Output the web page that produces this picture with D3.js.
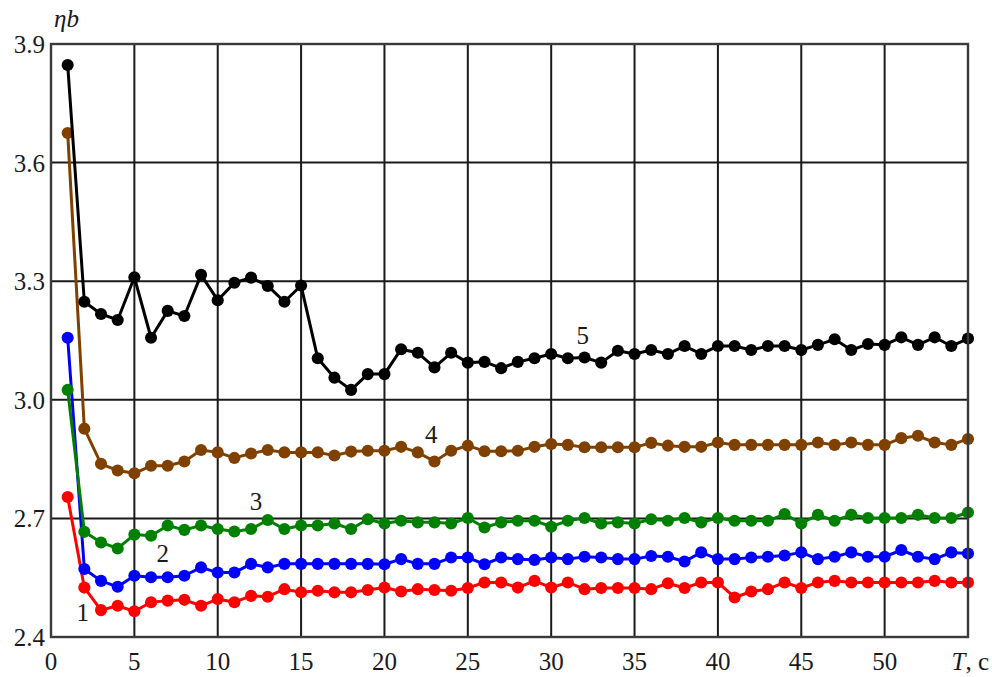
<!DOCTYPE html>
<html>
<head>
<meta charset="utf-8">
<script src="https://cdn.jsdelivr.net/npm/d3@7"></script>
<style>
  html, body { margin: 0; padding: 0; background: #fff; }
  svg { display: block; }
  text { font-family: "Liberation Serif", "Times New Roman", serif; fill: #1a1a1a; }
</style>
</head>
<body>
<svg id="chart" width="992" height="677"></svg>
<script>
// Time axis: T = 1 … 55 s
const T = d3.range(1, 56);

// ηb versus T for the five regimes
const curve1 = [2.754, 2.525, 2.468, 2.479, 2.465, 2.488, 2.492, 2.494, 2.479, 2.496,
  2.488, 2.504, 2.502, 2.521, 2.513, 2.517, 2.513, 2.513, 2.519, 2.525,
  2.515, 2.521, 2.519, 2.517, 2.524, 2.538, 2.538, 2.525, 2.542, 2.525,
  2.538, 2.521, 2.524, 2.524, 2.524, 2.521, 2.536, 2.524, 2.538, 2.538,
  2.500, 2.515, 2.521, 2.538, 2.524, 2.538, 2.542, 2.538, 2.538, 2.538,
  2.538, 2.538, 2.542, 2.538, 2.538];
const curve2 = [3.157, 2.572, 2.542, 2.527, 2.555, 2.551, 2.551, 2.555, 2.576, 2.563,
  2.563, 2.585, 2.576, 2.585, 2.585, 2.585, 2.585, 2.585, 2.585, 2.584,
  2.597, 2.585, 2.585, 2.601, 2.601, 2.584, 2.601, 2.597, 2.595, 2.601,
  2.597, 2.603, 2.601, 2.597, 2.597, 2.605, 2.603, 2.591, 2.614, 2.597,
  2.597, 2.601, 2.603, 2.606, 2.614, 2.597, 2.603, 2.614, 2.603, 2.603,
  2.620, 2.603, 2.597, 2.614, 2.611];
const curve3 = [3.025, 2.666, 2.639, 2.624, 2.659, 2.656, 2.682, 2.671, 2.682, 2.673,
  2.667, 2.673, 2.696, 2.673, 2.682, 2.682, 2.687, 2.673, 2.698, 2.687,
  2.694, 2.690, 2.690, 2.687, 2.701, 2.677, 2.690, 2.694, 2.694, 2.679,
  2.694, 2.701, 2.687, 2.690, 2.687, 2.698, 2.694, 2.701, 2.690, 2.701,
  2.694, 2.694, 2.694, 2.711, 2.687, 2.709, 2.694, 2.709, 2.701, 2.701,
  2.701, 2.709, 2.701, 2.701, 2.715];
const curve4 = [3.675, 2.927, 2.838, 2.821, 2.814, 2.833, 2.833, 2.844, 2.873, 2.867,
  2.853, 2.864, 2.873, 2.867, 2.867, 2.867, 2.859, 2.869, 2.871, 2.871,
  2.881, 2.867, 2.844, 2.871, 2.884, 2.870, 2.870, 2.871, 2.881, 2.888,
  2.886, 2.880, 2.880, 2.880, 2.880, 2.891, 2.884, 2.881, 2.881, 2.892,
  2.886, 2.886, 2.886, 2.886, 2.886, 2.892, 2.886, 2.892, 2.886, 2.886,
  2.903, 2.909, 2.892, 2.886, 2.901];
const curve5 = [3.847, 3.248, 3.217, 3.202, 3.310, 3.157, 3.225, 3.212, 3.316, 3.252,
  3.296, 3.309, 3.288, 3.248, 3.289, 3.105, 3.056, 3.025, 3.065, 3.065,
  3.128, 3.119, 3.082, 3.119, 3.094, 3.096, 3.080, 3.096, 3.105, 3.116,
  3.105, 3.107, 3.094, 3.124, 3.116, 3.126, 3.116, 3.136, 3.116, 3.136,
  3.136, 3.126, 3.136, 3.136, 3.126, 3.139, 3.153, 3.126, 3.141, 3.139,
  3.158, 3.139, 3.158, 3.136, 3.155];

const seriesNames = ["1", "2", "3", "4", "5"];
const seriesColors = ["#ff0000", "#0000ff", "#008000", "#804000", "#000000"];
const seriesValues = [curve1, curve2, curve3, curve4, curve5];

// Where each curve number is written: [T, ηb]
const labelT = [1.9, 6.7, 12.3, 22.8, 31.9];
const labelV = [2.44, 2.59, 2.72, 2.89, 3.14];

const xTicks = [0, 5, 10, 15, 20, 25, 30, 35, 40, 45, 50];
const yTicks = [2.4, 2.7, 3.0, 3.3, 3.6, 3.9];
const yTickLabels = ["2.4", "2.7", "3.0", "3.3", "3.6", "3.9"];

const svg = d3.select("#chart");
const x = d3.scaleLinear().domain([0, 55]).range([51, 968]);
const y = d3.scaleLinear().domain([2.4, 3.9]).range([637, 44]);

// Grid
const grid = svg.append("g");
grid.selectAll("line.vx").data(xTicks.filter(d => d > 0)).join("line")
  .attr("x1", d => x(d)).attr("x2", d => x(d))
  .attr("y1", y(2.4)).attr("y2", y(3.9))
  .attr("stroke", "#1a1a1a").attr("stroke-width", 2);
grid.selectAll("line.hy").data(yTicks.filter(d => d > 2.4 && d < 3.9)).join("line")
  .attr("x1", x(0)).attr("x2", x(55))
  .attr("y1", d => y(d)).attr("y2", d => y(d))
  .attr("stroke", "#1a1a1a").attr("stroke-width", 2);

// Curves with their markers
const line = d3.line().x((d, i) => x(T[i])).y(d => y(d));
seriesValues.forEach((vals, k) => {
  const g = svg.append("g");
  g.append("path").datum(vals)
    .attr("d", line).attr("fill", "none")
    .attr("stroke", seriesColors[k]).attr("stroke-width", 3)
    .attr("stroke-linejoin", "round");
  g.selectAll("path.m").data(vals).join("path")
    .attr("transform", (d, i) => `translate(${x(T[i])},${y(d)})`)
    .attr("d", d3.symbol(d3.symbolCircle, 115))
    .attr("fill", seriesColors[k]);
});

// Frame
svg.append("rect")
  .attr("x", x(0)).attr("y", y(3.9))
  .attr("width", x(55) - x(0)).attr("height", y(2.4) - y(3.9))
  .attr("fill", "none").attr("stroke", "#3a3a3a").attr("stroke-width", 2.4);

// Axis tick labels
svg.append("g").selectAll("text").data(yTicks).join("text")
  .attr("x", 45).attr("y", d => y(d)).attr("dy", "0.36em")
  .attr("text-anchor", "end").attr("font-size", 25)
  .text((d, i) => yTickLabels[i]);
svg.append("g").selectAll("text").data(xTicks).join("text")
  .attr("x", d => x(d)).attr("y", 670)
  .attr("text-anchor", "middle").attr("font-size", 25)
  .text(d => d);

// Axis titles
const xt = svg.append("text").attr("x", 989).attr("y", 670)
  .attr("text-anchor", "end").attr("font-size", 25);
xt.append("tspan").attr("font-style", "italic").text("T");
xt.append("tspan").text(", c");

svg.append("text").attr("x", 54).attr("y", 27)
  .attr("font-size", 25).attr("font-style", "italic").text("ηb");

// Curve numbers
svg.append("g").selectAll("text").data(seriesNames).join("text")
  .attr("x", (d, i) => x(labelT[i])).attr("y", (d, i) => y(labelV[i]))
  .attr("text-anchor", "middle").attr("font-size", 25)
  .text(d => d);
</script>
</body>
</html>
